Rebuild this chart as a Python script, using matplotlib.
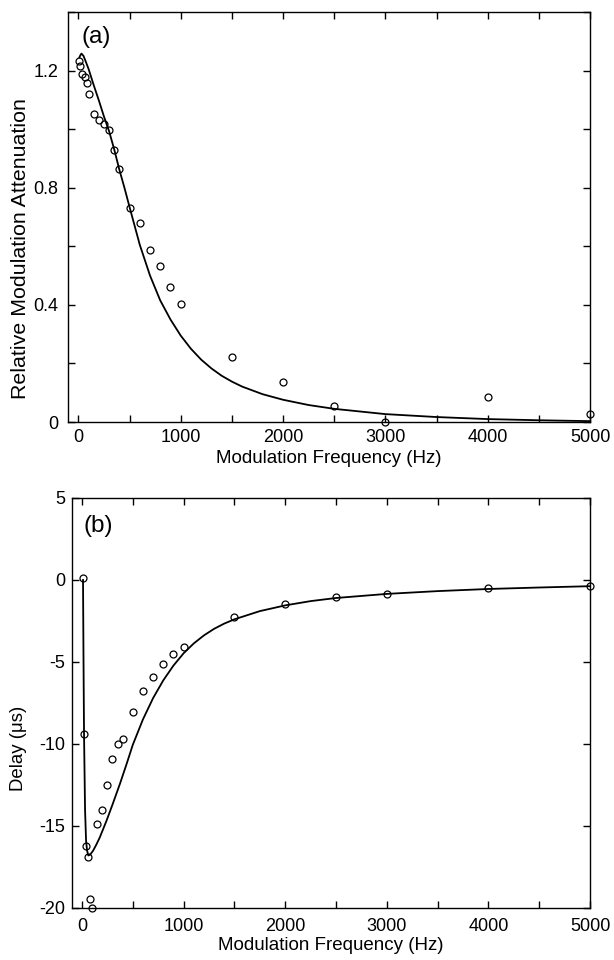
import matplotlib
matplotlib.use("Agg")
import matplotlib.pyplot as plt
from matplotlib.ticker import MultipleLocator, FuncFormatter

plt.rcParams['font.family'] = ['Liberation Sans', 'DejaVu Sans']

# ---- data ----
freq = [10, 20, 40, 60, 80, 100, 150, 200, 250, 300, 350, 400, 500, 600,
        700, 800, 900, 1000, 1500, 2000, 2500, 3000, 4000, 5000]
atten = [1.234, 1.217, 1.187, 1.178, 1.157, 1.121, 1.053, 1.030, 1.019,
         0.998, 0.928, 0.865, 0.732, 0.679, 0.589, 0.532, 0.460, 0.403,
         0.221, 0.137, 0.055, 0.001, 0.086, 0.026]
delay = [0.1, -9.4, -16.2, -16.9, -19.45, -20.0, -14.9, -14.05, -12.5,
         -10.9, -10.0, -9.7, -8.05, -6.8, -5.9, -5.1, -4.5, -4.1,
         -2.23, -1.45, -1.05, -0.87, -0.5, -0.38]

fit_freq_a = [10, 20, 30, 50, 75, 100, 150, 200, 250, 300, 350, 400, 450,
              500, 600, 700, 800, 900, 1000, 1100, 1200, 1300, 1400, 1500,
              1600, 1800, 2000, 2250, 2500, 3000, 3500, 4000, 4500, 5000]
fit_atten = [1.245, 1.253, 1.258, 1.250, 1.228, 1.205, 1.150, 1.098, 1.043,
             0.993, 0.931, 0.862, 0.800, 0.734, 0.605, 0.500, 0.415, 0.350,
             0.295, 0.250, 0.213, 0.183, 0.158, 0.138, 0.121, 0.095, 0.076,
             0.058, 0.045, 0.027, 0.017, 0.010, 0.006, 0.003]

fit_freq_b = [10, 15, 20, 30, 40, 50, 62, 80, 110, 140, 175, 240, 300, 375,
              440, 500, 600, 700, 800, 900, 1000, 1100, 1200, 1300, 1400,
              1500, 1750, 2000, 2250, 2500, 3000, 3500, 4000, 4500, 5000]
fit_delay = [0.0, -5.0, -9.4, -14.0, -15.9, -16.5, -16.8, -16.75, -16.5,
             -16.15, -15.7, -14.7, -13.7, -12.4, -11.2, -10.05, -8.5, -7.2,
             -6.12, -5.22, -4.47, -3.87, -3.38, -2.98, -2.66, -2.40, -1.90,
             -1.55, -1.29, -1.10, -0.85, -0.68, -0.55, -0.46, -0.38]

FS = 13
fig = plt.figure(figsize=(6.14, 9.6), dpi=100)
ax1 = fig.add_axes([0.111, 0.5604, 0.850, 0.4271])
ax2 = fig.add_axes([0.117, 0.0542, 0.844, 0.4271])

def fmt(v, pos):
    if abs(v) < 1e-9:
        return "0"
    return ("%g" % v)

for ax in (ax1, ax2):
    ax.tick_params(which='both', direction='in', top=True, right=True,
                   length=5, width=1.0, labelsize=FS, pad=5)
    for s in ax.spines.values():
        s.set_linewidth(1.0)
    ax.xaxis.set_major_locator(MultipleLocator(1000))
    ax.xaxis.set_minor_locator(MultipleLocator(500))
    ax.set_xlim(-100, 5000)

ax1.tick_params(axis='y', pad=7)
ax2.tick_params(axis='x', pad=7)
ax1.set_xlabel("Modulation Frequency (Hz)", fontsize=13.5, labelpad=3)
ax2.set_xlabel("Modulation Frequency (Hz)", fontsize=13.5, labelpad=2)

ax1.plot(fit_freq_a, fit_atten, color='black', lw=1.3)
ax1.plot(freq, atten, 'o', mfc='none', mec='black', ms=5, mew=0.9,
         clip_on=False, zorder=3)
ax1.set_ylim(0, 1.4)
ax1.yaxis.set_major_locator(MultipleLocator(0.4))
ax1.yaxis.set_minor_locator(MultipleLocator(0.2))
ax1.yaxis.set_major_formatter(FuncFormatter(fmt))
ax1.set_ylabel("Relative Modulation Attenuation", fontsize=15.4)
ax1.yaxis.set_label_coords(-0.074, 0.422)
ax1.text(0.025, 0.966, "(a)", transform=ax1.transAxes, fontsize=17.5,
         ha='left', va='top')

ax2.plot(fit_freq_b, fit_delay, color='black', lw=1.3)
ax2.plot(freq, delay, 'o', mfc='none', mec='black', ms=5, mew=0.9,
         clip_on=False, zorder=3)
ax2.set_ylim(-20, 5)
ax2.yaxis.set_major_locator(MultipleLocator(5))
ax2.yaxis.set_major_formatter(FuncFormatter(fmt))
ax2.set_ylabel("Delay (\u03bcs)", fontsize=13.4)
ax2.yaxis.set_label_coords(-0.087, 0.39)
ax2.text(0.023, 0.9585, "(b)", transform=ax2.transAxes, fontsize=17.5,
         ha='left', va='top')

fig.savefig("out.png", dpi=100)
